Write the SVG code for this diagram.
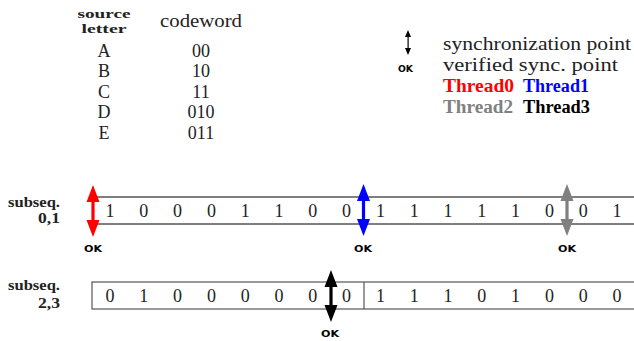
<svg xmlns="http://www.w3.org/2000/svg" xmlns:xlink="http://www.w3.org/1999/xlink" width="634" height="341" viewBox="0 0 634 341">
<style>
  .t { font-family: "Liberation Serif", "DejaVu Serif", serif; font-size: 18px; fill: #222; }
  .c { text-anchor: middle; }
  .b { font-weight: bold; }
  .lbl { font-family: "Liberation Serif", serif; font-size: 15px; font-weight: bold; fill: #222; }
  .hd { font-family: "Liberation Serif", serif; font-size: 13px; font-weight: bold; fill: #222; text-anchor: middle; }
  .ok { font-family: "DejaVu Sans", sans-serif; font-size: 8.5px; font-weight: bold; text-anchor: middle; fill: #000; }
  .d { font-family: "Liberation Serif", serif; font-size: 18px; text-anchor: middle; fill: #222; }
</style>
<defs>
  <g id="dbl">
    <path d="M0,0 L6.5,17 L-6.5,17 Z M0,52 L6.5,35 L-6.5,35 Z"/>
    <rect x="-1.6" y="15" width="3.2" height="22"/>
  </g>
</defs>

<g id="table">
  <text class="hd" x="104" y="17.5" textLength="53" lengthAdjust="spacingAndGlyphs">source</text>
  <text class="hd" x="104" y="32.5" textLength="45" lengthAdjust="spacingAndGlyphs">letter</text>
  <text class="t c" x="201" y="27" textLength="82" lengthAdjust="spacingAndGlyphs">codeword</text>
  <text class="t c" x="104" y="57">A</text><text class="t c" x="201" y="57">00</text>
  <text class="t c" x="104" y="77">B</text><text class="t c" x="201" y="77">10</text>
  <text class="t c" x="104" y="98">C</text><text class="t c" x="201" y="98">11</text>
  <text class="t c" x="104" y="118">D</text><text class="t c" x="201" y="118">010</text>
  <text class="t c" x="104" y="139">E</text><text class="t c" x="201" y="139">011</text>
</g>

<g id="legend">
  <g id="legend-arrow" fill="#000" stroke="none">
    <rect x="407.5" y="35" width="1.2" height="16"/>
    <path d="M408,30 L411,37 L405,37 Z M408,55 L411,48 L405,48 Z"/>
  </g>
  <text class="ok" x="405.5" y="71.5" textLength="15" lengthAdjust="spacingAndGlyphs">OK</text>
  <text class="t" x="443" y="49.5" textLength="188" lengthAdjust="spacingAndGlyphs">synchronization point</text>
  <text class="t" x="443" y="71" textLength="175" lengthAdjust="spacingAndGlyphs">verified sync. point</text>
  <text class="t b" x="443" y="92" style="fill:#ff0000" textLength="71" lengthAdjust="spacingAndGlyphs">Thread0</text>
  <text class="t b" x="523" y="92" style="fill:#0000ff" textLength="66" lengthAdjust="spacingAndGlyphs">Thread1</text>
  <text class="t b" x="443" y="113" style="fill:#808080" textLength="70" lengthAdjust="spacingAndGlyphs">Thread2</text>
  <text class="t b" x="523" y="113" style="fill:#000" textLength="67" lengthAdjust="spacingAndGlyphs">Thread3</text>
</g>

<g id="row1">
  <text class="lbl" x="60" y="207" text-anchor="end" textLength="52" lengthAdjust="spacingAndGlyphs">subseq.</text>
  <text class="lbl" x="60" y="223" text-anchor="end" textLength="22" lengthAdjust="spacingAndGlyphs">0,1</text>
  <line x1="97" y1="197" x2="634" y2="197" stroke="#000" stroke-width="1.2"/>
  <line x1="97" y1="224" x2="634" y2="224" stroke="#000" stroke-width="1.2"/>
  <g>
    <text class="d" x="110" y="217">1</text><text class="d" x="143.8" y="217">0</text>
    <text class="d" x="177.6" y="217">0</text><text class="d" x="211.4" y="217">0</text>
    <text class="d" x="245.2" y="217">1</text><text class="d" x="279" y="217">1</text>
    <text class="d" x="312.8" y="217">0</text><text class="d" x="346.6" y="217">0</text>
    <text class="d" x="380.4" y="217">1</text><text class="d" x="414.2" y="217">1</text>
    <text class="d" x="448" y="217">1</text><text class="d" x="481.8" y="217">1</text>
    <text class="d" x="515.6" y="217">1</text><text class="d" x="549.4" y="217">0</text>
    <text class="d" x="583.2" y="217">0</text><text class="d" x="617" y="217">1</text>
  </g>
</g>

<g id="row2">
  <text class="lbl" x="60" y="290" text-anchor="end" textLength="52" lengthAdjust="spacingAndGlyphs">subseq.</text>
  <text class="lbl" x="60" y="308" text-anchor="end" textLength="22" lengthAdjust="spacingAndGlyphs">2,3</text>
  <rect x="92" y="282" width="560" height="27" fill="none" stroke="#555" stroke-width="1.2"/>
  <line x1="364" y1="282" x2="364" y2="309" stroke="#555" stroke-width="1.2"/>
  <g>
    <text class="d" x="110" y="302">0</text><text class="d" x="143.8" y="302">1</text>
    <text class="d" x="177.6" y="302">0</text><text class="d" x="211.4" y="302">0</text>
    <text class="d" x="245.2" y="302">0</text><text class="d" x="279" y="302">0</text>
    <text class="d" x="312.8" y="302">0</text><text class="d" x="346.6" y="302">0</text>
    <text class="d" x="380.4" y="302">1</text><text class="d" x="414.2" y="302">1</text>
    <text class="d" x="448" y="302">1</text><text class="d" x="481.8" y="302">0</text>
    <text class="d" x="515.6" y="302">1</text><text class="d" x="549.4" y="302">0</text>
    <text class="d" x="583.2" y="302">0</text><text class="d" x="617" y="302">0</text>
  </g>
</g>

<g id="connectors">
  <g id="sync-red" fill="#ff0000"><use xlink:href="#dbl" href="#dbl" transform="translate(93,185)"/></g>
  <g id="sync-blue" fill="#0000ff"><use xlink:href="#dbl" href="#dbl" transform="translate(363.5,184)"/></g>
  <g id="sync-gray" fill="#808080"><use xlink:href="#dbl" href="#dbl" transform="translate(567,184)"/></g>
  <g id="sync-black" fill="#000"><use xlink:href="#dbl" href="#dbl" transform="translate(331,270)"/></g>
</g>

<g id="ok-labels">
  <text class="ok" x="93" y="252" textLength="18" lengthAdjust="spacingAndGlyphs">OK</text>
  <text class="ok" x="363" y="252" textLength="18" lengthAdjust="spacingAndGlyphs">OK</text>
  <text class="ok" x="567" y="252" textLength="18" lengthAdjust="spacingAndGlyphs">OK</text>
  <text class="ok" x="330" y="337" textLength="18" lengthAdjust="spacingAndGlyphs">OK</text>
</g>
</svg>
